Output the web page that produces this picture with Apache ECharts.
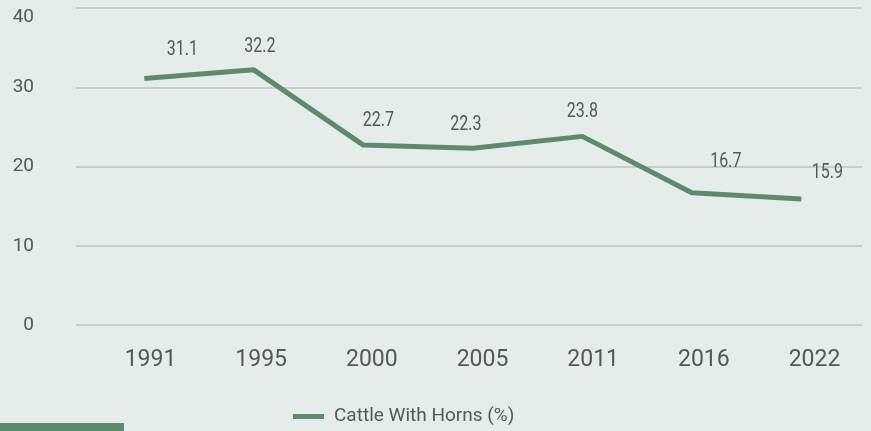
<!DOCTYPE html>
<html>
<head>
<meta charset="utf-8">
<script src="https://cdn.jsdelivr.net/npm/echarts@6/dist/echarts.min.js"></script>
<style>
html,body{margin:0;padding:0;background:#e6ece9;}
#chart{width:871px;height:431px;}
</style>
</head>
<body>
<div id="chart"></div>
<script>
const years = ['1991', '1995', '2000', '2005', '2011', '2016', '2022'];
const hornsPct = [31.1, 32.2, 22.7, 22.3, 23.8, 16.7, 15.9];
const seriesName = 'Cattle With Horns (%)';
const yTicks = { min: 0, max: 40, interval: 10 };
// value-label nudges relative to each point (style only)
const labelOffsets = [[38, -28.5], [6, -22.5], [15, -24.4], [-7, -23.3], [0, -24.7], [34, -31], [26, -26.3]];

const green = '#5c8a6d';
const textGray = '#575757';

const chart = echarts.init(document.getElementById('chart'), null, { renderer: 'canvas' });
chart.setOption({
  backgroundColor: '#e6ece9',
  animation: false,
  grid: [
    { left: 76, right: 9, top: 8, bottom: 106 },
    { left: 144.3, right: 69.7, top: 8, bottom: 106 },
    { left: 150.5, right: 56.5, top: 8, bottom: 106 }
  ],
  xAxis: [
    { gridIndex: 0, type: 'category', data: years, show: false },
    { gridIndex: 1, type: 'category', data: years, boundaryGap: false, show: false },
    {
      gridIndex: 2, type: 'category', data: years, boundaryGap: false,
      axisLine: { show: false }, axisTick: { show: false },
      axisLabel: { margin: 24, fontSize: 23, fontFamily: 'Roboto', color: textGray }
    }
  ],
  yAxis: [
    {
      gridIndex: 0, type: 'value', min: yTicks.min, max: yTicks.max, interval: yTicks.interval,
      axisLine: { show: false }, axisTick: { show: false },
      axisLabel: { margin: 42, fontSize: 19, fontFamily: 'Roboto', color: textGray, verticalAlignMaxLabel: 'top' },
      splitLine: { lineStyle: { color: '#c9cccb', width: 2 } }
    },
    { gridIndex: 1, type: 'value', min: yTicks.min, max: yTicks.max, show: false, splitLine: { show: false } },
    { gridIndex: 2, type: 'value', min: yTicks.min, max: yTicks.max, show: false, splitLine: { show: false } }
  ],
  legend: {
    data: [seriesName],
    left: 293, top: 407, padding: 0,
    icon: 'rect', itemWidth: 31, itemHeight: 5,
    textStyle: { fontSize: 19, fontFamily: 'Roboto', color: textGray, padding: [0, 0, 0, 5] }
  },
  series: [{
    name: seriesName,
    type: 'line',
    xAxisIndex: 1, yAxisIndex: 1,
    data: hornsPct,
    symbol: 'none',
    lineStyle: { color: green, width: 5 },
    itemStyle: { color: green }
  }, {
    name: 'values',
    type: 'custom',
    xAxisIndex: 1, yAxisIndex: 1,
    data: hornsPct.map((v, i) => [i, v]),
    silent: true,
    renderItem: function (params, api) {
      const p = api.coord([api.value(0), api.value(1)]);
      const off = labelOffsets[params.dataIndex];
      return {
        type: 'text',
        x: p[0] + off[0],
        y: p[1] + off[1],
        scaleX: 0.8,
        style: {
          text: String(hornsPct[params.dataIndex]),
          fontSize: 20,
          fontFamily: 'Roboto',
          fill: textGray,
          align: 'center',
          verticalAlign: 'middle'
        }
      };
    }
  }],
  graphic: [{
    type: 'rect', left: 0, top: 423,
    shape: { width: 124, height: 8 },
    style: { fill: green }
  }]
});
</script>
</body>
</html>
